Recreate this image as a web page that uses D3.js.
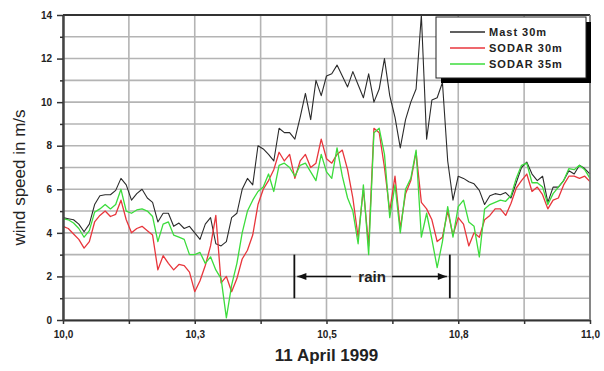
<!DOCTYPE html>
<html>
<head>
<meta charset="utf-8">
<script src="https://cdn.jsdelivr.net/npm/d3@7/dist/d3.min.js"></script>
<style>
  body { margin: 0; background: #fff; }
  #windChart text { font-family: "Liberation Sans", Arial, sans-serif; fill: #222; }
</style>
</head>
<body>
<div id="windChart"></div>
<script>
// samples every 0.01 from 10.00 to 11.00
var startTime = 10.0;
var stepTime = 0.01;

var mast30 = [4.7, 4.65, 4.6, 4.4, 4.05, 4.4, 5.3, 5.7, 5.75, 5.75,
  5.95, 6.5, 6.2, 5.5, 5.8, 6.0, 5.6, 5.4, 4.5, 4.9,
  4.9, 4.3, 4.45, 4.2, 4.3, 4.0, 3.7, 4.4, 4.7, 3.5,
  3.4, 3.6, 4.7, 4.9, 6.0, 6.5, 6.2, 8.0, 7.85, 7.6,
  7.3, 8.8, 8.6, 8.6, 8.3, 9.3, 10.4, 9.2, 11.0, 10.3,
  11.2, 11.3, 11.7, 11.2, 10.7, 11.4, 10.8, 10.2, 11.3, 10.0,
  10.6, 12.0, 10.3, 9.3, 7.9, 9.2, 10.0, 10.6, 14.0, 8.3,
  10.1, 10.2, 10.9, 7.3, 5.5, 6.6, 6.5, 6.35, 6.25, 5.95,
  5.3, 5.7, 5.8, 5.75, 5.85, 5.6, 6.3, 7.0, 7.25, 6.7,
  6.4, 6.6, 5.4, 6.1, 6.1, 6.4, 6.85, 6.7, 7.1, 6.95,
  6.7];

var sodar30 = [4.3, 4.2, 3.95, 3.7, 3.3, 3.6, 4.5, 4.8, 5.0, 4.75,
  4.85, 5.5, 4.6, 4.0, 4.2, 4.3, 4.1, 3.9, 2.3, 2.95,
  2.6, 2.3, 2.55, 2.5, 2.2, 1.3, 1.8, 2.5, 3.4, 4.8,
  1.7, 2.0, 1.3, 1.9, 2.8, 3.2, 3.9, 5.3, 6.0, 6.4,
  6.9, 7.7, 7.3, 7.6, 6.5, 7.3, 7.6, 7.0, 7.2, 8.3,
  7.4, 7.2, 7.6, 7.8, 6.9, 5.6, 3.8, 6.0, 3.4, 8.8,
  8.6, 7.0, 5.0, 6.6, 4.2, 5.8, 6.4, 7.7, 5.4, 5.1,
  4.6, 3.6, 3.8, 5.0, 3.9, 4.7, 4.4, 3.4, 4.0, 3.8,
  4.6, 4.8, 5.1, 5.1, 4.8, 5.35, 6.05, 6.4, 6.7, 5.9,
  6.1, 5.75, 5.1, 5.5, 5.6, 6.2, 6.6, 6.6, 6.5, 6.6,
  6.35];

var sodar35 = [4.65, 4.6, 4.45, 4.2, 3.8, 4.1, 4.95, 5.1, 5.3, 5.1,
  5.3, 6.0, 5.0, 4.9, 5.05, 5.1, 5.0, 4.75, 3.6, 4.4,
  4.5, 3.9, 3.8, 3.7, 3.0, 3.0, 3.1, 2.6, 2.9, 2.3,
  1.9, 0.1, 1.6, 2.6, 4.0, 5.0, 5.5, 5.9, 6.1, 6.7,
  5.9, 7.1, 7.2, 7.0, 6.6, 7.1, 7.2, 6.8, 6.4, 7.6,
  6.8, 6.5, 7.9, 6.6, 5.6, 5.0, 3.5, 6.2, 3.0, 8.6,
  8.8, 7.6, 4.7, 6.2, 4.0, 6.0, 6.5, 7.8, 3.8, 4.9,
  3.7, 2.4, 3.6, 5.2, 3.8, 5.2, 5.5, 4.5, 4.3, 2.9,
  5.1, 5.3, 5.4, 5.5, 5.45, 5.7, 6.5, 7.1, 7.2, 6.3,
  6.3, 6.1, 5.3, 5.8, 6.1, 6.4, 6.95, 6.9, 7.1, 6.9,
  6.5];

var seriesNames = ["Mast 30m", "SODAR 30m", "SODAR 35m"];
var seriesColors = ["#2b2b2b", "#e8363c", "#3cdc3c"];

var xTickValues = [10, 10.125, 10.25, 10.375, 10.5, 10.625, 10.75, 10.875, 11];
var xTickLabels = ["10,0", "", "10,3", "", "10,5", "", "10,8", "", "11,0"];
var yMajorTicks = [0, 2, 4, 6, 8, 10, 12, 14];
var yMinorTicks = [1, 3, 5, 7, 9, 11, 13];

var rainSpan = [10.439, 10.734];

var width = 604;
var height = 371;
var margin = { top: 15, right: 14, bottom: 51, left: 63 };

var svg = d3.select("#windChart")
  .append("svg")
  .attr("width", width)
  .attr("height", height);

var xscale = d3.scaleLinear()
  .domain([10, 11])
  .range([margin.left, width - margin.right]);

var yscale = d3.scaleLinear()
  .domain([0, 14])
  .range([height - margin.bottom, margin.top]);

var times = mast30.map(function (d, i) { return startTime + i * stepTime; });

// grid
svg.append("g")
  .attr("class", "grid")
  .selectAll("line.h")
  .data(yMajorTicks.concat(yMinorTicks))
  .enter().append("line")
  .attr("x1", margin.left).attr("x2", width - margin.right)
  .attr("y1", function (d) { return yscale(d); })
  .attr("y2", function (d) { return yscale(d); })
  .attr("stroke", "#b4b4b4")
  .attr("stroke-width", 1.6);

svg.append("g")
  .attr("class", "grid")
  .selectAll("line.v")
  .data(xTickValues)
  .enter().append("line")
  .attr("x1", function (d) { return xscale(d); })
  .attr("x2", function (d) { return xscale(d); })
  .attr("y1", margin.top).attr("y2", height - margin.bottom)
  .attr("stroke", "#b4b4b4")
  .attr("stroke-width", 1.6);

// series
var line = d3.line()
  .x(function (d, i) { return xscale(times[i]); })
  .y(function (d) { return yscale(d); });

[mast30, sodar30, sodar35].forEach(function (s, k) {
  svg.append("path")
    .datum(s)
    .attr("fill", "none")
    .attr("stroke", seriesColors[k])
    .attr("stroke-width", k == 0 ? 1.1 : 1.3)
    .attr("stroke-linejoin", "round")
    .attr("d", line);
});

// axes
var x_axis = d3.axisBottom(xscale)
  .tickValues(xTickValues)
  .tickFormat(function (d, i) { return xTickLabels[i]; })
  .tickSize(4)
  .tickSizeOuter(0);

svg.append("g")
  .attr("id", "x_axis")
  .attr("transform", "translate(0," + (height - margin.bottom) + ")")
  .call(x_axis)
  .call(function (g) {
    g.select(".domain").attr("stroke", "#333").attr("stroke-width", 2);
    g.selectAll(".tick line").attr("stroke", "#333").attr("stroke-width", 1.5);
    g.selectAll(".tick text").attr("dy", "1.05em")
      .style("font-size", "10px").style("font-weight", "bold");
  });

var y_axis = d3.axisLeft(yscale)
  .tickValues(yMajorTicks)
  .tickSize(6)
  .tickPadding(5)
  .tickSizeOuter(0);

svg.append("g")
  .attr("id", "y_axis")
  .attr("transform", "translate(" + margin.left + ",0)")
  .call(y_axis)
  .call(function (g) {
    g.select(".domain").attr("stroke", "#444").attr("stroke-width", 2.5);
    g.selectAll(".tick line").attr("stroke", "#333").attr("stroke-width", 1.5);
    g.selectAll(".tick text").style("font-size", "10px").style("font-weight", "bold");
  });

svg.append("g")
  .attr("transform", "translate(" + margin.left + ",0)")
  .call(d3.axisLeft(yscale).tickValues(yMinorTicks).tickSize(3).tickFormat("").tickSizeOuter(0))
  .call(function (g) {
    g.select(".domain").remove();
    g.selectAll(".tick line").attr("stroke", "#333").attr("stroke-width", 1.5);
  });

// frame top + right
svg.append("line")
  .attr("x1", margin.left).attr("x2", width - margin.right)
  .attr("y1", margin.top).attr("y2", margin.top)
  .attr("stroke", "#333").attr("stroke-width", 2);
svg.append("line")
  .attr("x1", width - margin.right).attr("x2", width - margin.right)
  .attr("y1", margin.top).attr("y2", height - margin.bottom)
  .attr("stroke", "#777").attr("stroke-width", 1.6);

// titles
svg.append("text")
  .attr("transform", "translate(19," + ((margin.top + height - margin.bottom) / 2 + 10) + ") rotate(-90)")
  .attr("text-anchor", "middle")
  .attr("dominant-baseline", "central")
  .style("font-size", "17px")
  .text("wind speed in m/s");

svg.append("text")
  .attr("x", (margin.left + width - margin.right) / 2)
  .attr("y", 361)
  .attr("text-anchor", "middle")
  .style("font-size", "17px")
  .style("font-weight", "bold")
  .text("11 April 1999");

// rain marker
var rainY = yscale(2);
var rx0 = xscale(rainSpan[0]);
var rx1 = xscale(rainSpan[1]);
var rmid = (rx0 + rx1) / 2;
var rain = svg.append("g").attr("class", "rain");

rainSpan.forEach(function (t) {
  rain.append("line")
    .attr("x1", xscale(t)).attr("x2", xscale(t))
    .attr("y1", yscale(3)).attr("y2", yscale(1))
    .attr("stroke", "#111").attr("stroke-width", 1.8);
});
rain.append("line")
  .attr("x1", rx0 + 3).attr("x2", rmid - 21)
  .attr("y1", rainY).attr("y2", rainY)
  .attr("stroke", "#111").attr("stroke-width", 1.6);
rain.append("line")
  .attr("x1", rmid + 20).attr("x2", rx1 - 3)
  .attr("y1", rainY).attr("y2", rainY)
  .attr("stroke", "#111").attr("stroke-width", 1.6);
rain.append("path")
  .attr("d", "M" + (rx0 + 3) + "," + rainY + "l9,-3.5v7z")
  .attr("fill", "#111");
rain.append("path")
  .attr("d", "M" + (rx1 - 3) + "," + rainY + "l-9,-3.5v7z")
  .attr("fill", "#111");
rain.append("text")
  .attr("x", rmid)
  .attr("y", rainY)
  .attr("text-anchor", "middle")
  .attr("dominant-baseline", "central")
  .style("font-size", "15px")
  .style("font-weight", "bold")
  .text("rain");

// legend
var legend = svg.append("g").attr("transform", "translate(436,17)");
legend.append("rect")
  .attr("x", 5).attr("y", 5).attr("width", 150).attr("height", 61)
  .attr("fill", "#000");
legend.append("rect")
  .attr("x", 0).attr("y", 0).attr("width", 150).attr("height", 61)
  .attr("fill", "#fff").attr("stroke", "#222").attr("stroke-width", 1);

seriesNames.forEach(function (name, i) {
  var yy = 15 + i * 16;
  legend.append("line")
    .attr("x1", 14).attr("x2", 49)
    .attr("y1", yy).attr("y2", yy)
    .attr("stroke", seriesColors[i])
    .attr("stroke-width", 1.3);
  legend.append("text")
    .attr("x", 53).attr("y", yy)
    .attr("dominant-baseline", "central")
    .style("font-size", "11px")
    .style("font-weight", "bold")
    .style("letter-spacing", "1px")
    .text(name);
});
</script>
</body>
</html>
